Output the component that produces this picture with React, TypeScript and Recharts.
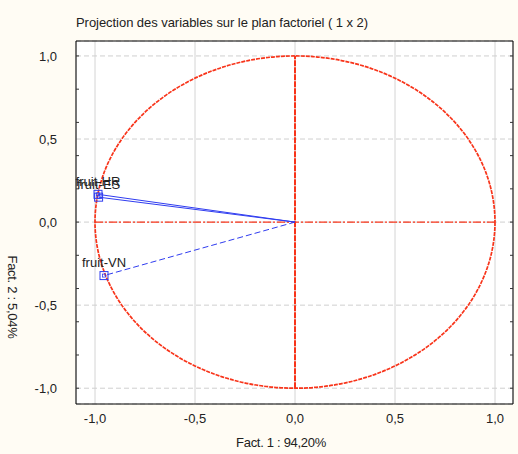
import {
    CartesianGrid,
    LabelList,
    ReferenceArea,
    ReferenceLine,
    Scatter,
    ScatterChart,
    XAxis,
    YAxis,
} from 'recharts';

const variables = ['fruit-HR', 'fruit-ES', 'fruit-VN'];
const fact1 = [-0.985, -0.982, -0.955];
const fact2 = [0.167, 0.15, -0.322];
const lineDash = ['0', '0', '6 3'];

const majorTicks = [-1.0, -0.5, 0.0, 0.5, 1.0];
const minorTicks = [
    -1.0, -0.9, -0.8, -0.7, -0.6, -0.5, -0.4, -0.3, -0.2, -0.1, 0.0,
    0.1, 0.2, 0.3, 0.4, 0.5, 0.6, 0.7, 0.8, 0.9, 1.0,
];
const domain: [number, number] = [-1.095, 1.09];

const RED = '#f8341a';
const BLUE = '#2f3cf0';
const FONT = '"Liberation Sans", Arial, sans-serif';

const fmt = (v: number) => v.toFixed(1).replace('.', ',');

const series = variables.map((name, i) => [
    { x: 0, y: 0, name: '' },
    { x: fact1[i], y: fact2[i], name },
]);

const Marker = (props: any) => {
    const { cx, cy, payload } = props;
    if (!payload || !payload.name) return <g />;
    return (
        <g>
            <rect x={cx - 4} y={cy - 4} width={8} height={8} fill="none" stroke={BLUE} strokeWidth={1} />
            <rect x={cx - 1.5} y={cy - 1.5} width={3} height={3} fill="none" stroke={BLUE} strokeWidth={0.8} />
        </g>
    );
};

const UnitCircle = (props: any) => {
    const { x, y, width, height } = props;
    return (
        <ellipse
            cx={x + width / 2}
            cy={y + height / 2}
            rx={width / 2}
            ry={height / 2}
            fill="none"
            stroke={RED}
            strokeWidth={1.7}
            strokeDasharray="4 1"
        />
    );
};

const noTick = () => <g />;

export default function App() {
    return (
        <div
            style={{
                position: 'absolute',
                left: 0,
                top: 0,
                width: 518,
                height: 454,
                background: '#fffcf4',
                fontFamily: FONT,
                color: '#222',
            }}
        >
            <div style={{ position: 'absolute', left: 76, top: 15, fontSize: 13, lineHeight: '15px', whiteSpace: 'nowrap', letterSpacing: -0.05 }}>
                Projection des variables sur le plan factoriel ( 1 x 2)
            </div>
            <ScatterChart
                width={518}
                height={454}
                margin={{ top: 41, right: 5, bottom: 0, left: 0 }}
                style={{ position: 'absolute', left: 0, top: 0 }}
            >
                <CartesianGrid fill="#ffffff" horizontal={false} stroke="#d4d4d4" />
                <CartesianGrid vertical={false} stroke="#cfcfcf" strokeDasharray="5 3" />
                <XAxis
                    type="number"
                    dataKey="x"
                    domain={domain}
                    ticks={majorTicks}
                    allowDataOverflow
                    tickFormatter={fmt}
                    tickLine={false}
                    tickSize={0}
                    tickMargin={10}
                    height={50}
                    axisLine={{ stroke: '#000' }}
                    tick={{ fontSize: 13, fill: '#222', fontFamily: FONT }}
                />
                <XAxis xAxisId="top" orientation="top" mirror type="number" domain={domain} ticks={minorTicks} allowDataOverflow tick={noTick} tickSize={3} tickLine={{ stroke: '#333' }} axisLine={{ stroke: '#000' }} />
                <XAxis xAxisId="bot" orientation="bottom" mirror type="number" domain={domain} ticks={minorTicks} allowDataOverflow tick={noTick} tickSize={3} tickLine={{ stroke: '#333' }} axisLine={false} />
                <YAxis
                    type="number"
                    dataKey="y"
                    domain={domain}
                    ticks={majorTicks}
                    allowDataOverflow
                    tickFormatter={fmt}
                    tickLine={false}
                    tickSize={0}
                    tickMargin={19}
                    width={76}
                    axisLine={{ stroke: '#000' }}
                    tick={{ fontSize: 13, fill: '#222', fontFamily: FONT }}
                />
                <YAxis yAxisId="left2" orientation="left" mirror type="number" domain={domain} ticks={minorTicks} allowDataOverflow tick={noTick} tickSize={3} tickLine={{ stroke: '#333' }} axisLine={false} />
                <YAxis yAxisId="right" orientation="right" mirror type="number" domain={domain} ticks={minorTicks} allowDataOverflow tick={noTick} tickSize={3} tickLine={{ stroke: '#333' }} axisLine={{ stroke: '#000' }} />
                <ReferenceArea x1={-1} x2={1} y1={-1} y2={1} shape={UnitCircle} />
                <ReferenceLine
                    segment={[{ x: 0, y: -1 }, { x: 0, y: 1 }]}
                    stroke={RED}
                    strokeWidth={2}
                    strokeDasharray="6 1"
                />
                <ReferenceLine
                    segment={[{ x: -1, y: 0 }, { x: 1, y: 0 }]}
                    stroke={RED}
                    strokeWidth={1.2}
                    strokeDasharray="8 2 2 2"
                />
                {series.map((data, i) => (
                    <Scatter
                        key={variables[i]}
                        data={data}
                        line={{ stroke: BLUE, strokeWidth: 1, strokeDasharray: lineDash[i] }}
                        shape={Marker}
                        isAnimationActive={false}
                    >
                        <LabelList
                            dataKey="name"
                            position="top"
                            offset={4}
                            style={{ fontSize: 13, fill: '#222', fontFamily: FONT }}
                        />
                    </Scatter>
                ))}
            </ScatterChart>
            <div style={{ position: 'absolute', left: 281, top: 435, transform: 'translateX(-50%)', fontSize: 13, lineHeight: '15px', whiteSpace: 'nowrap', letterSpacing: -0.3 }}>
                Fact. 1 : 94,20%
            </div>
            <div style={{ position: 'absolute', left: 12, top: 297, transform: 'translate(-50%, -50%) rotate(90deg)', fontSize: 13, lineHeight: '15px', whiteSpace: 'nowrap', letterSpacing: -0.3 }}>
                Fact. 2 : 5,04%
            </div>
        </div>
    );
}
